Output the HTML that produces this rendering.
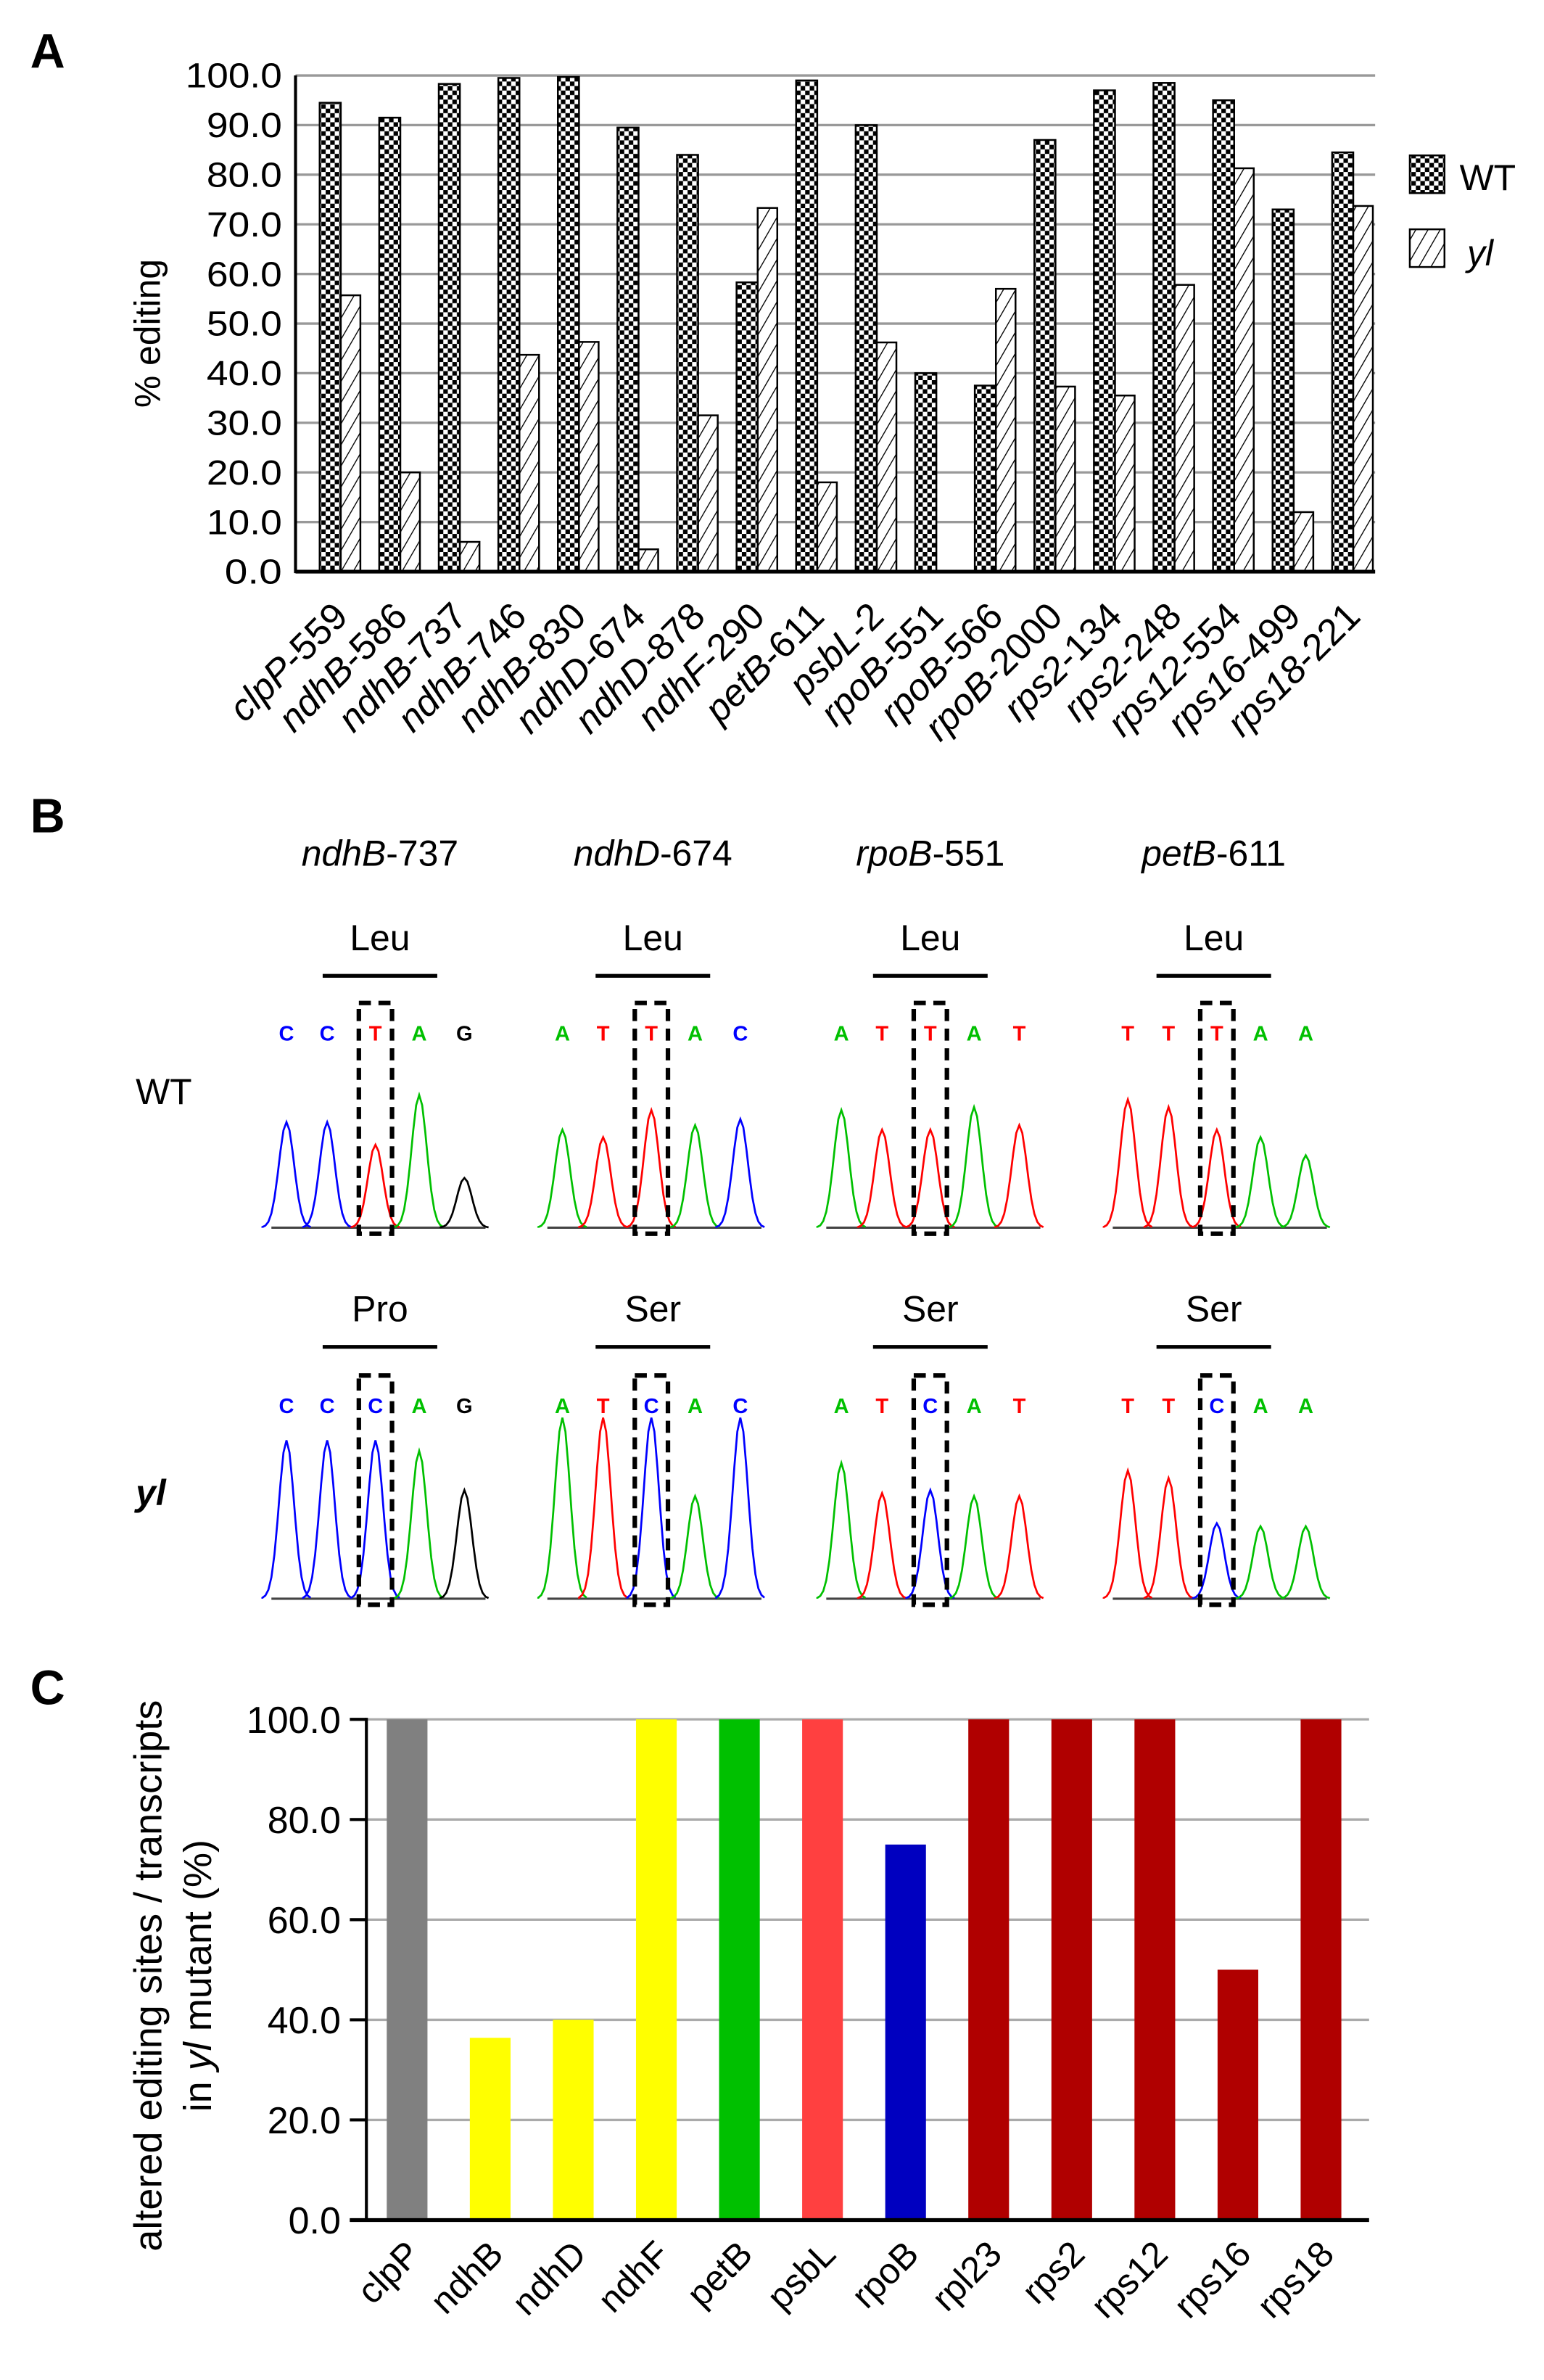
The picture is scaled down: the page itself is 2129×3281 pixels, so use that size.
<!DOCTYPE html>
<html><head><meta charset="utf-8"><style>
html,body{margin:0;padding:0;background:#fff}
svg{display:block}
text{font-family:"Liberation Sans",Arial,sans-serif}
</style></head><body>
<svg id="fig" width="2129" height="3281" viewBox="0 0 1024 1578" xmlns="http://www.w3.org/2000/svg">
<defs>
<pattern id="chk" width="6" height="6" patternUnits="userSpaceOnUse">
<rect width="6" height="6" fill="#fff"/><rect width="3" height="3" fill="#000"/><rect x="3" y="3" width="3" height="3" fill="#000"/>
</pattern>
<pattern id="hatch" width="7" height="7" patternUnits="userSpaceOnUse" patternTransform="rotate(30)">
<rect width="7" height="7" fill="#fff"/><line x1="0" y1="0" x2="0" y2="7" stroke="#000" stroke-width="1.3"/>
</pattern>
</defs>
<g id="pa"></g>
<g id="pb"></g>
<g id="pc"></g>
</svg>
<script>
// Panel A data
const catsA = ["clpP-559","ndhB-586","ndhB-737","ndhB-746","ndhB-830","ndhD-674","ndhD-878","ndhF-290","petB-611","psbL-2","rpoB-551","rpoB-566","rpoB-2000","rps2-134","rps2-248","rps12-554","rps16-499","rps18-221"];
const wtA = [94.5,91.5,98.3,99.5,99.7,89.5,84,58.3,99,90,40,37.5,87,97,98.5,95,73,84.5];
const ylA = [55.7,20,6,43.7,46.3,4.5,31.5,73.3,18,46.2,0,57,37.3,35.5,57.8,81.3,12,73.7];
const ticksA = ["0.0","10.0","20.0","30.0","40.0","50.0","60.0","70.0","80.0","90.0","100.0"];
// Panel C data
const catsC = ["clpP","ndhB","ndhD","ndhF","petB","psbL","rpoB","rpl23","rps2","rps12","rps16","rps18"];
const valsC = [100,36.4,40,100,100,100,75,100,100,100,50,100];
const colorsC = ["#808080","#ffff00","#ffff00","#ffff00","#00c000","#ff4040","#0000c0","#b00000","#b00000","#b00000","#b00000","#b00000"];
const ticksC = ["0.0","20.0","40.0","60.0","80.0","100.0"];

const NS="http://www.w3.org/2000/svg";
function mk(parent,tag,attrs,txt){const e=document.createElementNS(NS,tag);for(const k in attrs)e.setAttribute(k,attrs[k]);if(txt!==undefined)e.textContent=txt;parent.appendChild(e);return e;}

// ---------- Panel A ----------
const pa=document.getElementById('pa');
const yA=v=>379-(v/100)*329;
const xA=i=>226+i*39.5;
let t=mk(pa,'text',{x:20,y:45,'font-size':32,'font-weight':'bold'},'A');


ticksA.forEach(s=>{const v=parseFloat(s);
 let g=mk(pa,'line',{x1:196,x2:912,y1:yA(v),y2:yA(v),stroke:'#999','stroke-width':1.6});
 
 
 const tl=s.length>4?64:(s.length>3?50:38);
 let l=mk(pa,'text',{x:187,y:yA(v)+8,'font-size':23,'text-anchor':'end',textLength:tl,lengthAdjust:'spacingAndGlyphs'},s);
 
 
});
let yt=mk(pa,'text',{transform:'translate(106,221) rotate(-90)','font-size':24,'text-anchor':'middle'},'% editing');


catsA.forEach((c,i)=>{const cx=xA(i);
 let b=mk(pa,'rect',{x:cx-14,y:yA(wtA[i]),width:14,height:379-yA(wtA[i]),fill:'url(#chk)',stroke:'#000','stroke-width':1.2});
 
 
 if(ylA[i]>0){let h=mk(pa,'rect',{x:cx,y:yA(ylA[i]),width:13,height:379-yA(ylA[i]),fill:'url(#hatch)',stroke:'#000','stroke-width':1.2});
 
 }
 const parts=c.split('-');
 let l=mk(pa,'text',{transform:`translate(${cx+6},410) rotate(-45)`,'font-size':25,'text-anchor':'end'});
 
 
 mk(l,'tspan',{'font-style':'italic'},parts[0]);mk(l,'tspan',{},'-'+parts[1]);
});
let ax=mk(pa,'line',{x1:196,x2:196,y1:50,y2:380,stroke:'#000','stroke-width':2});

let bx=mk(pa,'line',{x1:196,x2:912,y1:379,y2:379,stroke:'#000','stroke-width':2.5});

let lg1=mk(pa,'rect',{x:935,y:103,width:23,height:25,fill:'url(#chk)',stroke:'#000','stroke-width':1.2});

let lt1=mk(pa,'text',{x:968,y:126,'font-size':24},'WT');

let lg2=mk(pa,'rect',{x:935,y:152,width:23,height:25,fill:'url(#hatch)',stroke:'#000','stroke-width':1.2});

let lt2=mk(pa,'text',{x:973,y:176,'font-size':24,'font-style':'italic'},'yl');


// ---------- Panel B ----------
const pb=document.getElementById('pb');
let tb=mk(pb,'text',{x:20,y:552,'font-size':32,'font-weight':'bold'},'B');

const genes=[["ndhB","-737"],["ndhD","-674"],["rpoB","-551"],["petB","-611"]];
const cols=[180,363,548,738];
const centers=[252,433,617,805];
const wtAA=["Leu","Leu","Leu","Leu"],ylAA=["Pro","Ser","Ser","Ser"];
const wtSeq=["CCTAG","ATTAC","ATTAT","TTTAA"];
const ylSeq=["CCCAG","ATCAC","ATCAT","TTCAA"];
const colMap={A:'#00c000',T:'#ff0000',C:'#0000ff',G:'#000000'};
let w1=mk(pb,'text',{x:90,y:732,'font-size':24},'WT');

let w2=mk(pb,'text',{x:90,y:998,'font-size':24,'font-style':'italic','font-weight':'bold'},'yl');

function chromo(x0,base,seq,aa,letY,boxTop,boxBot,cx,aaY,heights){
 let a=mk(pb,'text',{x:cx,y:aaY,'font-size':24,'text-anchor':'middle'},aa);
 
 let ln=mk(pb,'line',{x1:cx-38,x2:cx+38,y1:aaY+17,y2:aaY+17,stroke:'#000','stroke-width':2.5});
 
 let bl=mk(pb,'line',{x1:x0,x2:x0+142,y1:base,y2:base,stroke:'#444','stroke-width':1.5});
 
 const pos=[10,37,69,98,128];
 seq.split('').forEach((ch,k)=>{
  let lt=mk(pb,'text',{x:x0+pos[k],y:letY,'font-size':14,'font-weight':'bold','text-anchor':'middle',fill:colMap[ch]},ch);
  
  const px=x0+pos[k],h=heights[k];let d=`M${px-16},${base}`;
  for(let s=-16;s<=16;s+=2){const yy=base-h*Math.exp(-(s*s)/50);d+=` L${px+s},${yy.toFixed(1)}`;}
  let p=mk(pb,'path',{d:d,fill:'none',stroke:colMap[ch],'stroke-width':1.3});
  
 });
 let bxr=mk(pb,'rect',{x:x0+pos[2]-11,y:boxTop,width:22,height:boxBot-boxTop,fill:'none',stroke:'#000','stroke-width':3,'stroke-dasharray':'8,5'});
 
}
const wtH=[[70,70,55,88,33],[65,60,78,68,72],[78,65,65,80,68],[85,80,65,60,48]];
const ylH=[[105,105,105,98,72],[120,120,120,68,120],[90,70,72,68,68],[85,80,50,48,48]];
genes.forEach((g,i)=>{
 let gt=mk(pb,'text',{x:centers[i],y:574,'font-size':24,'text-anchor':'middle'});
 
 mk(gt,'tspan',{'font-style':'italic'},g[0]);mk(gt,'tspan',{},g[1]);
 chromo(cols[i],814,wtSeq[i],wtAA[i],690,665,818,centers[i],630,wtH[i]);
 chromo(cols[i],1060,ylSeq[i],ylAA[i],937,912,1064,centers[i],876,ylH[i]);
});

// ---------- Panel C ----------
const pc=document.getElementById('pc');
const yC=v=>1472-(v/100)*332;
const xC=i=>270+i*55.1;
let tc=mk(pc,'text',{x:20,y:1130,'font-size':32,'font-weight':'bold'},'C');

ticksC.forEach(s=>{const v=parseFloat(s);
 if(v>0){let g=mk(pc,'line',{x1:243,x2:908,y1:yC(v),y2:yC(v),stroke:'#aaa','stroke-width':1.6});
 }
 let tk=mk(pc,'line',{x1:232,x2:243,y1:yC(v),y2:yC(v),stroke:'#000','stroke-width':2});
 
 let l=mk(pc,'text',{x:226,y:yC(v)+9,'font-size':25,'text-anchor':'end'},s);
 
});
let yc1=mk(pc,'text',{transform:'translate(107,1310) rotate(-90)','font-size':26,'text-anchor':'middle'},'altered editing sites / transcripts');

let yc2=mk(pc,'text',{transform:'translate(140,1310) rotate(-90)','font-size':26,'text-anchor':'middle'});

mk(yc2,'tspan',{},'in ');mk(yc2,'tspan',{'font-style':'italic'},'yl');mk(yc2,'tspan',{},' mutant (%)');
catsC.forEach((c,i)=>{const cx=xC(i);
 let b=mk(pc,'rect',{x:cx-13.5,y:yC(valsC[i]),width:27,height:1472-yC(valsC[i]),fill:colorsC[i]});
 
 let l=mk(pc,'text',{transform:`translate(${cx+10},1496) rotate(-45)`,'font-size':24,'text-anchor':'end'},c);
 
});
let ayc=mk(pc,'line',{x1:243,x2:243,y1:1139,y2:1473,stroke:'#000','stroke-width':2});

let axc=mk(pc,'line',{x1:232,x2:908,y1:1472,y2:1472,stroke:'#000','stroke-width':2.5});

</script>
</body></html>
